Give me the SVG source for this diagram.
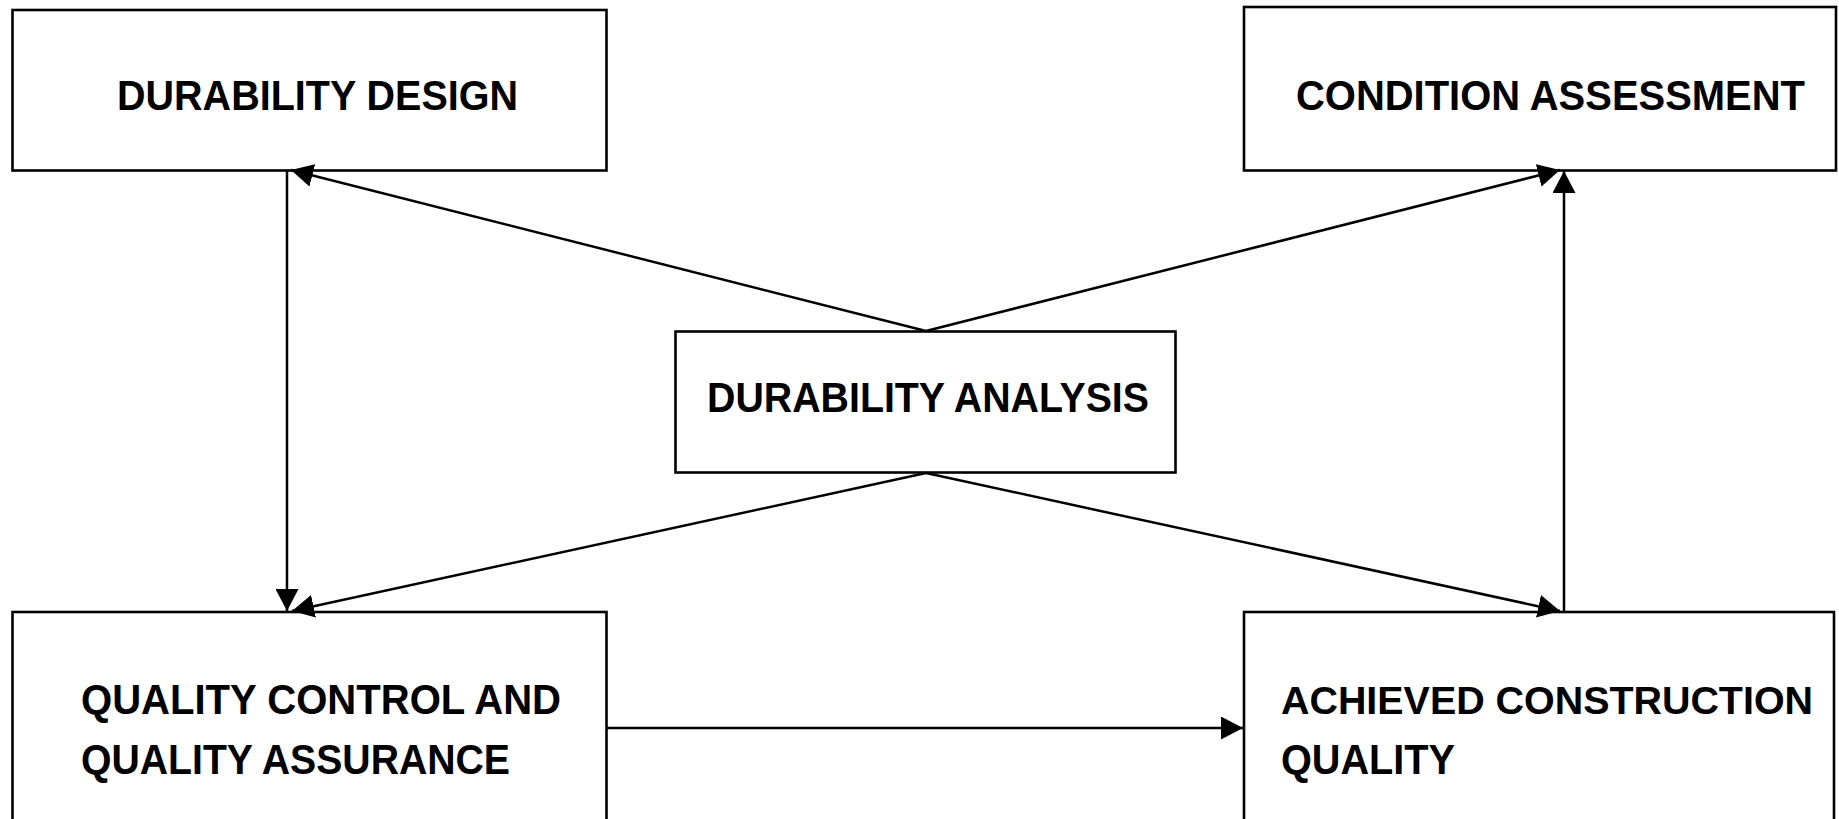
<svg xmlns="http://www.w3.org/2000/svg" width="1839" height="819" viewBox="0 0 1839 819">
  <style>
    .box { fill: #ffffff; stroke: #000000; stroke-width: 2.6; }
    .label { font-family: "Liberation Sans", Arial, sans-serif; font-weight: bold; font-size: 42px; fill: #000000; }
    .tight { font-size: 39px; }
    .link { fill: none; stroke: #000000; stroke-width: 2.5; }
  </style>
  <defs>
    <marker id="arrow" markerUnits="userSpaceOnUse" markerWidth="23" markerHeight="23" refX="22" refY="11.5" orient="auto" viewBox="0 0 23 23">
      <path d="M0,0 L22,11.5 L0,23 Z" fill="#000000"/>
    </marker>
  </defs>
  <rect x="0" y="0" width="1839" height="819" fill="#ffffff"/>

  <g id="durability-design">
    <rect class="box" x="12.5" y="10" width="594" height="160.5"/>
    <text class="label" x="117" y="110" textLength="401" lengthAdjust="spacingAndGlyphs">DURABILITY DESIGN</text>
  </g>

  <g id="condition-assessment">
    <rect class="box" x="1244" y="7" width="592" height="163.5"/>
    <text class="label" x="1296" y="110" textLength="509" lengthAdjust="spacingAndGlyphs">CONDITION ASSESSMENT</text>
  </g>

  <g id="durability-analysis">
    <rect class="box" x="675.5" y="331.5" width="500" height="141"/>
    <text class="label" x="707" y="412" textLength="442" lengthAdjust="spacingAndGlyphs">DURABILITY ANALYSIS</text>
  </g>

  <g id="quality-control">
    <rect class="box" x="12.5" y="612" width="594" height="220"/>
    <text class="label" x="81" y="714" textLength="480" lengthAdjust="spacingAndGlyphs">QUALITY CONTROL AND</text>
    <text class="label" x="81" y="774" textLength="429" lengthAdjust="spacingAndGlyphs">QUALITY ASSURANCE</text>
  </g>

  <g id="achieved-quality">
    <rect class="box" x="1244" y="612" width="590" height="220"/>
    <text class="label tight" x="1281" y="714" textLength="532" lengthAdjust="spacingAndGlyphs">ACHIEVED CONSTRUCTION</text>
    <text class="label" x="1281" y="774" textLength="174" lengthAdjust="spacingAndGlyphs">QUALITY</text>
  </g>

  <g id="connectors">
    <line class="link" x1="287" y1="171" x2="287" y2="611" marker-end="url(#arrow)"/>
    <line class="link" x1="1564" y1="611" x2="1564" y2="171" marker-end="url(#arrow)"/>
    <line class="link" x1="926" y1="331" x2="291" y2="170" marker-end="url(#arrow)"/>
    <line class="link" x1="926" y1="331" x2="1560" y2="170" marker-end="url(#arrow)"/>
    <line class="link" x1="926" y1="473" x2="292" y2="611" marker-end="url(#arrow)"/>
    <line class="link" x1="926" y1="473" x2="1560" y2="611" marker-end="url(#arrow)"/>
    <line class="link" x1="607" y1="728" x2="1243" y2="728" marker-end="url(#arrow)"/>
  </g>
</svg>
